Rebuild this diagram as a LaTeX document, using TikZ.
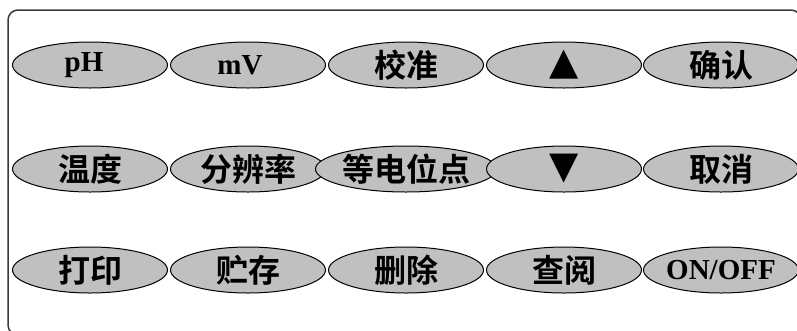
\documentclass[tikz,border=0pt]{standalone}
\usepackage{fontspec}
\usetikzlibrary{shapes.geometric}
\setmainfont{Liberation Serif}
\newfontfamily\cjk{Noto Sans CJK SC}[BoldFont={* Bold}]
\newfontfamily\symf{DejaVu Sans}
\definecolor{keygray}{HTML}{C0C0C0}
\definecolor{framegray}{HTML}{3A3A3A}
\tikzset{
  keyshape/.style={ellipse, draw=black, line width=1pt, fill=keygray,
    minimum width=155pt, minimum height=46pt, inner sep=0pt, text=black},
  cjktext/.style={font=\cjk\bfseries\fontsize{32}{32}\selectfont},
  lattext/.style={font=\bfseries\fontsize{29}{29}\selectfont},
  symtext/.style={font=\symf\fontsize{38}{38}\selectfont}
}
\begin{document}
\begin{tikzpicture}[x=1pt,y=-1pt]
\useasboundingbox (0,0) rectangle (797,330);
\clip (0,0) rectangle (797,330);
\draw[framegray, line width=1.5pt, rounded corners=10pt] (8,10) rectangle (801,335);
% row 1
\node[keyshape, lattext] (ph) at (90,65) {\kern-12pt pH};
\node[keyshape, lattext] (mv) at (248,65) {\kern-16pt mV};
\node[keyshape, cjktext] (cal) at (406,65) {校准};
\node[keyshape, symtext] (up) at (564,65) {▲};
\node[keyshape, cjktext] (ok) at (721,65) {确认};
% row 2
\node[keyshape, cjktext] (temp) at (90,169) {温度};
\node[keyshape, cjktext] (res) at (248,169) {分辨率};
\node[keyshape, cjktext] (iso) at (406,169) {等电位点};
\node[keyshape, symtext] (down) at (564,169) {▼};
\node[keyshape, cjktext] (cancel) at (721,169) {取消};
% row 3
\node[keyshape, cjktext] (print) at (90,270) {打印};
\node[keyshape, cjktext] (store) at (248,270) {贮存};
\node[keyshape, cjktext] (del) at (406,270) {删除};
\node[keyshape, cjktext] (view) at (564,270) {查阅};
\node[keyshape, lattext] (onoff) at (721,270) {ON/OFF};
\end{tikzpicture}
\end{document}
